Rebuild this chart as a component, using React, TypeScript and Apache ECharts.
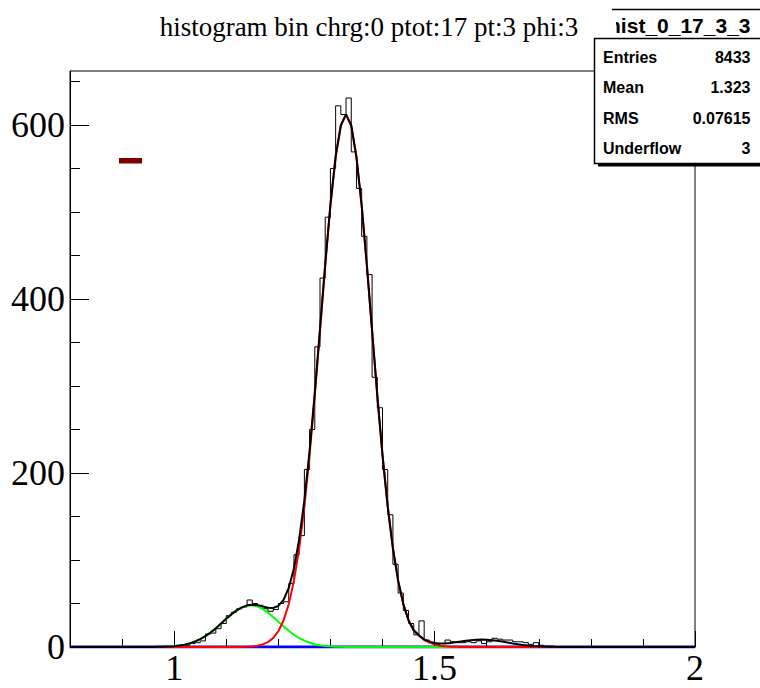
import React, { useEffect, useRef } from "react";
import * as echarts from "echarts";

// ---------------- data ----------------
const titleText = "histogram bin chrg:0 ptot:17 pt:3 phi:3";
const statsTitle = "hist_0_17_3_3";
const statsNames = ["Entries", "Mean", "RMS", "Underflow"];
const statsValues = ["8433", "1.323", "0.07615", "3"];

const binLow = 0.8;
const binWidth = 0.01;
// 120 bins, 0.80 .. 2.00
const histCounts = [
  0, 0, 0, 0, 0, 0, 0, 0, 0, 0,
  0, 0, 0, 0, 0, 0, 0, 0, 1, 0,
  1, 2, 2, 4, 5, 7, 15, 16, 21, 27,
  36, 40, 44, 46, 54, 50, 48, 44, 41, 43,
  50, 52, 73, 106, 128, 204, 250, 345, 424, 494,
  550, 622, 612, 631, 569, 527, 472, 428, 310, 275,
  204, 152, 95, 62, 42, 27, 14, 30, 8, 5,
  3, 4, 8, 6, 5, 5, 6, 5, 7, 4,
  6, 10, 9, 8, 8, 6, 6, 5, 3, 5,
  2, 1, 1, 0, 0, 0, 0, 0, 0, 0,
  0, 0, 0, 0, 0, 0, 0, 0, 0, 0,
  0, 0, 0, 0, 0, 0, 0, 0, 0, 0,
];

// fit curves sampled every 0.01 from 0.80 to 2.00 (121 points)
const curveStart = 0.8;
const curveStep = 0.01;
const totalFit = [
  0, 0, 0, 0, 0, 0, 0, 0, 0, 0,
  0, 0, 0, 0, 0, 0.05, 0.1, 0.2, 0.3, 0.6,
  1.0, 1.7, 2.7, 4.2, 6.3, 9.0, 12.5, 16.7, 21.6, 26.9,
  32.4, 37.6, 42.2, 45.6, 47.9, 48.6, 48.1, 46.7, 45.1, 44.8,
  47.2, 54.2, 67.9, 90.4, 123.6, 168.7, 225.5, 292.4, 365.7, 439.9,
  508.1, 563.5, 599.6, 612.1, 599.4, 563.1, 507.4, 438.6, 363.6, 289.2,
  220.6, 161.4, 113.3, 76.3, 49.4, 30.7, 19.3, 13.5, 8.75, 6.15,
  4.7, 3.9, 4.0, 4.5, 5.35, 6.2, 7.1, 7.85, 8.3, 8.5,
  8.3, 7.85, 7.1, 6.2, 5.15, 4.1, 3.2, 2.4, 1.7, 1.15,
  0.75, 0.5, 0.3, 0.17, 0.1, 0.05, 0, 0, 0, 0,
  0, 0, 0, 0, 0, 0, 0, 0, 0, 0,
  0, 0, 0, 0, 0, 0, 0, 0, 0, 0,
  0,
];
const mainPeakFit = [
  0, 0, 0, 0, 0, 0, 0, 0, 0, 0,
  0, 0, 0, 0, 0, 0, 0, 0, 0, 0,
  0, 0, 0, 0, 0, 0, 0, 0, 0, 0,
  0, 0, 0, 0.1, 0.3, 0.7, 1.5, 3.0, 5.6, 10.3,
  18.1, 30.5, 49.3, 76.3, 113.3, 161.4, 220.6, 289.2, 363.6, 438.6,
  507.4, 563.1, 599.4, 612, 599.4, 563.1, 507.4, 438.6, 363.6, 289.2,
  220.6, 161.4, 113.3, 76.3, 49.3, 30.5, 19, 13, 8, 5,
  3, 1.5, 0.8, 0.4, 0.2, 0, 0, 0, 0, 0,
  0, 0, 0, 0, 0, 0, 0, 0, 0, 0,
  0, 0, 0, 0, 0, 0, 0, 0, 0, 0,
  0, 0, 0, 0, 0, 0, 0, 0, 0, 0,
  0, 0, 0, 0, 0, 0, 0, 0, 0, 0,
  0,
];
const sidePeakFit = [
  0, 0, 0, 0, 0, 0, 0, 0, 0, 0,
  0, 0, 0, 0, 0, 0.05, 0.1, 0.18, 0.34, 0.6,
  1.02, 1.7, 2.72, 4.2, 6.25, 9.0, 12.5, 16.7, 21.6, 26.9,
  32.4, 37.6, 42.2, 45.6, 47.6, 47.9, 46.6, 43.7, 39.5, 34.5,
  29.1, 23.7, 18.6, 14.1, 10.3, 7.3, 4.9, 3.2, 2.1, 1.26,
  0.74, 0.4, 0.2, 0.1, 0, 0, 0, 0, 0, 0,
  0, 0, 0, 0, 0, 0, 0, 0, 0, 0,
  0, 0, 0, 0, 0, 0, 0, 0, 0, 0,
  0, 0, 0, 0, 0, 0, 0, 0, 0, 0,
  0, 0, 0, 0, 0, 0, 0, 0, 0, 0,
  0, 0, 0, 0, 0, 0, 0, 0, 0, 0,
  0, 0, 0, 0, 0, 0, 0, 0, 0, 0,
  0,
];
const backgroundX = [0.8, 2.0];
const backgroundY = [0, 0];

const xMin = 0.8;
const xMax = 2.0;
const yMin = 0;
const yMax = 662;
const xMajorTicks = [1, 1.5, 2];
const xMinorTicks = [0.8, 0.9, 1.0, 1.1, 1.2, 1.3, 1.4, 1.5, 1.6, 1.7, 1.8, 1.9, 2.0];
const yMajorTicks = [0, 200, 400, 600];
const yMinorTicks = [0, 50, 100, 150, 200, 250, 300, 350, 400, 450, 500, 550, 600, 650];

const serif = "'Liberation Serif', 'DejaVu Serif', serif";
const sans = "'Liberation Sans', Arial, sans-serif";

export default function App() {
  const ref = useRef<HTMLDivElement>(null);

  useEffect(() => {
    if (!ref.current) return;
    const chart = echarts.init(ref.current, null, { renderer: "svg" });

    const histData: number[][] = histCounts.map((c, i) => [
      +(binLow + i * binWidth).toFixed(2),
      c,
    ]);
    histData.push([xMax, histCounts[histCounts.length - 1]]);

    const toCurve = (vals: number[]) =>
      vals.map((v, i) => [+(curveStart + i * curveStep).toFixed(2), v]);

    const frameLeft = 70;
    const frameTop = 71;
    const frameRight = 695;
    const frameBottom = 647;

    const statsRows: any[] = [];
    statsNames.forEach((n, i) => {
      const y = 57.5 + i * 30.3;
      statsRows.push({
        type: "text",
        x: 603,
        y,
        z: 103,
        style: {
          text: n,
          font: `bold 16px ${sans}`,
          fill: "#000",
          textAlign: "left",
          textVerticalAlign: "middle",
        },
      });
      statsRows.push({
        type: "text",
        x: 750.5,
        y,
        z: 103,
        style: {
          text: statsValues[i],
          font: `bold 16px ${sans}`,
          fill: "#000",
          textAlign: "right",
          textVerticalAlign: "middle",
        },
      });
    });

    const option: any = {
      animation: false,
      backgroundColor: "#fff",
      grid: {
        left: frameLeft,
        top: frameTop,
        width: frameRight - frameLeft,
        height: frameBottom - frameTop,
        show: true,
        borderColor: "#000",
        borderWidth: 1,
        backgroundColor: "transparent",
        containLabel: false,
      },
      xAxis: [
        {
          type: "value",
          min: xMin,
          max: xMax,
          position: "bottom",
          axisLine: { show: true, lineStyle: { color: "#000", width: 1 } },
          axisTick: {
            show: true,
            inside: true,
            length: 16,
            customValues: xMajorTicks,
            lineStyle: { color: "#000", width: 1 },
          },
          axisLabel: {
            show: true,
            customValues: xMajorTicks,
            margin: 3,
            color: "#000",
            fontFamily: serif,
            fontSize: 36,
            formatter: (v: number) => String(v),
          },
          splitLine: { show: false },
        },
        {
          type: "value",
          min: xMin,
          max: xMax,
          position: "bottom",
          axisLine: { show: false },
          axisTick: {
            show: true,
            inside: true,
            length: 8,
            customValues: xMinorTicks,
            lineStyle: { color: "#000", width: 1 },
          },
          axisLabel: { show: false },
          splitLine: { show: false },
        },
      ],
      yAxis: [
        {
          type: "value",
          min: yMin,
          max: yMax,
          position: "left",
          axisLine: { show: true, lineStyle: { color: "#000", width: 1 } },
          axisTick: {
            show: true,
            inside: true,
            length: 19,
            customValues: yMajorTicks,
            lineStyle: { color: "#000", width: 1 },
          },
          axisLabel: {
            show: true,
            customValues: yMajorTicks,
            margin: 5,
            color: "#000",
            fontFamily: serif,
            fontSize: 36,
            formatter: (v: number) => String(v),
          },
          splitLine: { show: false },
        },
        {
          type: "value",
          min: yMin,
          max: yMax,
          position: "left",
          axisLine: { show: false },
          axisTick: {
            show: true,
            inside: true,
            length: 10,
            customValues: yMinorTicks,
            lineStyle: { color: "#000", width: 1 },
          },
          axisLabel: { show: false },
          splitLine: { show: false },
        },
      ],
      series: [
        {
          type: "line",
          name: "hist",
          data: histData,
          step: "end",
          symbol: "none",
          lineStyle: { color: "#000", width: 1 },
          z: 2,
        },
        {
          type: "line",
          name: "background",
          data: backgroundX.map((x, i) => [x, backgroundY[i]]),
          symbol: "none",
          lineStyle: { color: "#0000ff", width: 3 },
          z: 3,
        },
        {
          type: "line",
          name: "side",
          data: toCurve(sidePeakFit),
          symbol: "none",
          lineStyle: { color: "#00ff00", width: 2 },
          z: 4,
        },
        {
          type: "line",
          name: "main",
          data: toCurve(mainPeakFit),
          symbol: "none",
          lineStyle: { color: "#ff0000", width: 2 },
          z: 5,
        },
        {
          type: "line",
          name: "total",
          data: toCurve(totalFit),
          symbol: "none",
          lineStyle: { color: "#000", width: 2 },
          z: 6,
        },
      ],
      graphic: [
        {
          type: "text",
          x: 369,
          y: 27,
          z: 100,
          style: {
            text: titleText,
            font: `27px ${serif}`,
            fill: "#000",
            textAlign: "center",
            textVerticalAlign: "middle",
          },
        },
        {
          type: "rect",
          z: 100,
          shape: { x: 119, y: 158, width: 23, height: 5.5 },
          style: { fill: "#800000" },
        },
        // stats title
        {
          type: "text",
          x: 750.5,
          y: 25,
          z: 100,
          style: {
            text: statsTitle,
            font: `bold 21px ${sans}`,
            fill: "#000",
            textAlign: "right",
            textVerticalAlign: "middle",
          },
        },
        {
          type: "rect",
          z: 101,
          shape: { x: 588, y: 10.5, width: 28, height: 27 },
          style: { fill: "#fff" },
        },
        {
          type: "line",
          z: 101,
          shape: { x1: 612, y1: 9.5, x2: 762, y2: 9.5 },
          style: { stroke: "#000", lineWidth: 1.5 },
        },
        // stats box shadow + box
        {
          type: "rect",
          z: 101,
          shape: { x: 598, y: 42, width: 170, height: 124.5 },
          style: { fill: "#000" },
        },
        {
          type: "rect",
          z: 102,
          shape: { x: 594.5, y: 38.5, width: 170, height: 125 },
          style: { fill: "#fff", stroke: "#000", lineWidth: 1.5 },
        },
        ...statsRows,
      ],
    };

    chart.setOption(option);
    return () => chart.dispose();
  }, []);

  return (
    <div
      ref={ref}
      style={{
        position: "fixed",
        left: 0,
        top: 0,
        width: 760,
        height: 688,
        background: "#fff",
      }}
    />
  );
}
